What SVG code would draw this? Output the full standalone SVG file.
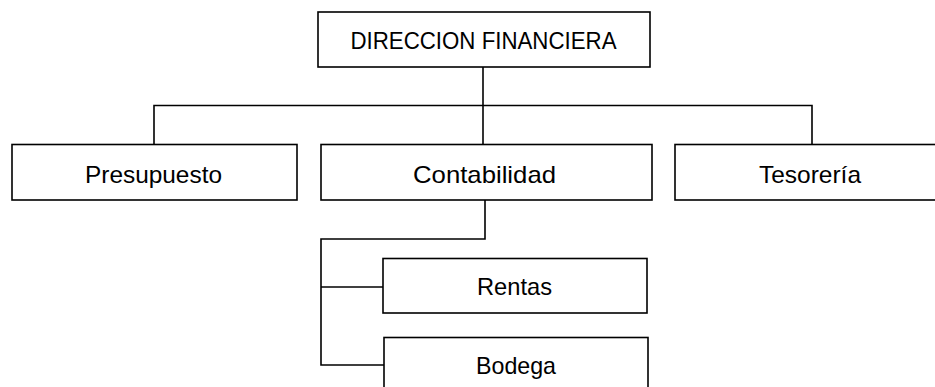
<svg xmlns="http://www.w3.org/2000/svg" width="935" height="387" viewBox="0 0 935 387">
<style>
.box{fill:#fff;stroke:#000;stroke-width:1.6}
.lbl{font-family:"Liberation Sans",Arial,sans-serif;font-size:24px;fill:#000;text-anchor:middle}
.con{fill:none;stroke:#000;stroke-width:1.6}
</style>
<rect width="935" height="387" fill="#fff"/>
<g id="connectors">
<path class="con" d="M483,67 V145"/>
<path class="con" d="M154,145 V105.5 H812 V145"/>
<path class="con" d="M485,200 V239 H321 V365 H384"/>
<path class="con" d="M321,287 H383"/>
</g>
<g id="direccion">
<rect class="box" x="318" y="12" width="332" height="55"/>
<text class="lbl" x="483.5" y="48.5" textLength="266" lengthAdjust="spacingAndGlyphs">DIRECCION FINANCIERA</text>
</g>
<g id="presupuesto">
<rect class="box" x="12" y="144.5" width="285" height="55.5"/>
<text class="lbl" x="153.5" y="182.5" textLength="137" lengthAdjust="spacingAndGlyphs">Presupuesto</text>
</g>
<g id="contabilidad">
<rect class="box" x="321" y="144.5" width="331" height="55.5"/>
<text class="lbl" x="484.5" y="182.5" textLength="143" lengthAdjust="spacingAndGlyphs">Contabilidad</text>
</g>
<g id="tesoreria">
<rect class="box" x="675" y="144.5" width="275" height="55.5"/>
<text class="lbl" x="810" y="182.5" textLength="102" lengthAdjust="spacingAndGlyphs">Tesorería</text>
</g>
<g id="rentas">
<rect class="box" x="383" y="258.5" width="264" height="54.5"/>
<text class="lbl" x="514.5" y="295" textLength="75" lengthAdjust="spacingAndGlyphs">Rentas</text>
</g>
<g id="bodega">
<rect class="box" x="384" y="337.5" width="264" height="60"/>
<text class="lbl" x="516" y="374" textLength="80" lengthAdjust="spacingAndGlyphs">Bodega</text>
</g>
</svg>
